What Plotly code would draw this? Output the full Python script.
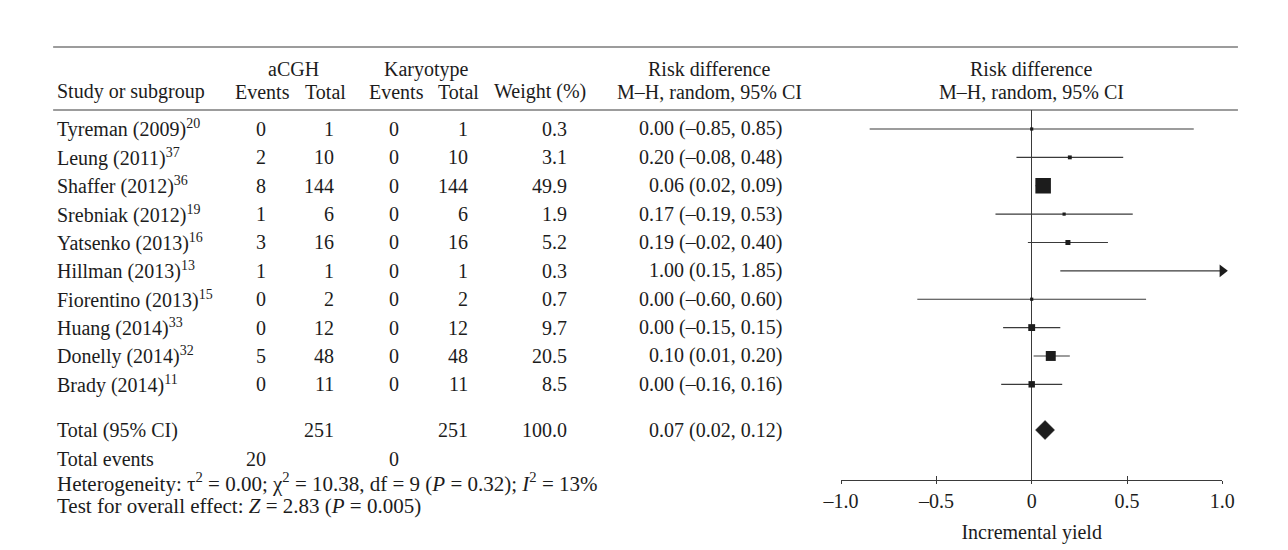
import math
import plotly.graph_objects as go

# ---- study data -------------------------------------------------------
studies = ["Tyreman (2009)", "Leung (2011)", "Shaffer (2012)", "Srebniak (2012)",
           "Yatsenko (2013)", "Hillman (2013)", "Fiorentino (2013)", "Huang (2014)",
           "Donelly (2014)", "Brady (2014)"]
refs = ["20", "37", "36", "19", "16", "13", "15", "33", "32", "11"]
acgh_events = [0, 2, 8, 1, 3, 1, 0, 0, 5, 0]
acgh_total = [1, 10, 144, 6, 16, 1, 2, 12, 48, 11]
kary_events = [0, 0, 0, 0, 0, 0, 0, 0, 0, 0]
kary_total = [1, 10, 144, 6, 16, 1, 2, 12, 48, 11]
weights = [0.3, 3.1, 49.9, 1.9, 5.2, 0.3, 0.7, 9.7, 20.5, 8.5]
rd = [0.00, 0.20, 0.06, 0.17, 0.19, 1.00, 0.00, 0.00, 0.10, 0.00]
rd_lo = [-0.85, -0.08, 0.02, -0.19, -0.02, 0.15, -0.60, -0.15, 0.01, -0.16]
rd_hi = [0.85, 0.48, 0.09, 0.53, 0.40, 1.85, 0.60, 0.15, 0.20, 0.16]

# pooled estimate
total_acgh = 251
total_kary = 251
total_weight = 100.0
pooled_rd = 0.07
pooled_lo = 0.02
pooled_hi = 0.12
events_acgh = 20
events_kary = 0
heterogeneity = ("Heterogeneity: τ<sup>2</sup> = 0.00; χ<sup>2</sup> = 10.38, df = 9 "
                 "(<i>P</i> = 0.32); <i>I</i><sup>2</sup> = 13%")
overall_test = "Test for overall effect: <i>Z</i> = 2.83 (<i>P</i> = 0.005)"

x_ticks = [-1.0, -0.5, 0.0, 0.5, 1.0]
x_tick_labels = ["–1.0", "–0.5", "0", "0.5", "1.0"]

# ---- layout helpers ---------------------------------------------------
W, H = 1288, 550
FONT = "Liberation Serif"
FS = 20
FS_NOTE = 21
INK = "#1c1c1c"
LINE = "#3a3a3a"

ROW0_PX, ROW_STEP = 129.0, 28.37     # pixel centre of the first study row, row pitch
PLOT_TOP_PX, PLOT_BOT_PX = 110.0, 480.0
X_LEFT_PX, X_RIGHT_PX = 843.0, 1234.0


def px_x(p):
    return p / W


def px_y(p):
    return 1 - p / H


def row_of(p):
    return (p - ROW0_PX) / ROW_STEP


X_MIN, X_MAX = x_ticks[0], x_ticks[-1]
rows = list(range(len(studies)))
pooled_row = row_of(430)

fig = go.Figure()

# confidence interval whiskers (clipped at the axis limit)
seg_x, seg_y = [], []
arrow_x, arrow_y = [], []
for i in rows:
    lo = max(rd_lo[i], X_MIN)
    hi = min(rd_hi[i], X_MAX)
    seg_x += [lo, hi, None]
    seg_y += [i, i, None]
    if rd_hi[i] > X_MAX:
        arrow_x.append(X_MAX)
        arrow_y.append(i)

fig.add_trace(go.Scatter(x=seg_x, y=seg_y, mode="lines",
                         line=dict(color=LINE, width=1.1),
                         hoverinfo="skip", showlegend=False))

# point estimates, square area proportional to study weight
vis = [i for i in rows if rd_hi[i] <= X_MAX]
fig.add_trace(go.Scatter(
    x=[rd[i] for i in vis], y=vis, mode="markers",
    marker=dict(symbol="square", color=INK, opacity=1,
                size=[max(3.2, 2.2 * math.sqrt(weights[i])) for i in vis],
                line=dict(width=0)),
    showlegend=False, cliponaxis=False))

# arrow for intervals running past the axis
fig.add_trace(go.Scatter(x=arrow_x, y=arrow_y, mode="markers",
                         marker=dict(symbol="triangle-right", size=11, color=INK,
                                     opacity=1, line=dict(width=0)),
                         showlegend=False, cliponaxis=False))

# pooled diamond
dh = 9.5 / ROW_STEP
fig.add_trace(go.Scatter(
    x=[pooled_lo, pooled_rd, pooled_hi, pooled_rd, pooled_lo],
    y=[pooled_row, pooled_row - dh, pooled_row, pooled_row + dh, pooled_row],
    mode="lines", fill="toself", fillcolor=INK, line=dict(color=INK, width=0.5),
    showlegend=False, hoverinfo="skip"))

# secondary axis only used to draw the upward half of the crossing ticks
fig.add_trace(go.Scatter(x=[X_MIN, X_MAX], y=[pooled_row, pooled_row], xaxis="x2",
                         mode="markers", marker=dict(opacity=0), showlegend=False,
                         hoverinfo="skip"))

ann = []


def text(x_px, y, s, align="left", paper_px=None, size=FS):
    """Place a table cell; rows use the data axis, header/footer use pixel rows."""
    if paper_px is not None:
        yref, yy = "paper", px_y(paper_px)
    else:
        yref, yy = "y", y
    ann.append(dict(x=px_x(x_px), y=yy, xref="paper", yref=yref, text=s,
                    showarrow=False, xanchor=align, yanchor="middle",
                    font=dict(family=FONT, size=size, color=INK)))


# column anchors (px)
C_NAME = 37
C_AEV, C_ATOT = 255, 325
C_KEV, C_KTOT = 392, 463
C_W, C_RD = 564, 784

# header
H1, H2 = 69.5, 92
text(281, None, "aCGH", "center", H1)
text(418, None, "Karyotype", "center", H1)
text(708, None, "Risk difference", "center", H1)
text(1038, None, "Risk difference", "center", H1)
text(C_NAME, None, "Study or subgroup", "left", H2)
text(250, None, "Events", "center", H2)
text(314, None, "Total", "center", H2)
text(387, None, "Events", "center", H2)
text(451, None, "Total", "center", H2)
text(534, None, "Weight (%)", "center", H2)
text(708, None, "M–H, random, 95% CI", "center", H2)
text(1038, None, "M–H, random, 95% CI", "center", H2)

# study rows
for i in rows:
    text(C_NAME, i, f"{studies[i]}<sup>{refs[i]}</sup>")
    text(C_AEV, i, str(acgh_events[i]), "right")
    text(C_ATOT, i, str(acgh_total[i]), "right")
    text(C_KEV, i, str(kary_events[i]), "right")
    text(C_KTOT, i, str(kary_total[i]), "right")
    text(C_W, i, f"{weights[i]:.1f}", "right")
    text(C_RD, i, f"{rd[i]:.2f} ({rd_lo[i]:.2f}, {rd_hi[i]:.2f})".replace("-", "–"), "right")

# totals and statistics
text(C_NAME, pooled_row, "Total (95% CI)")
text(C_ATOT, pooled_row, str(total_acgh), "right")
text(C_KTOT, pooled_row, str(total_kary), "right")
text(C_W, pooled_row, f"{total_weight:.1f}", "right")
text(C_RD, pooled_row, f"{pooled_rd:.2f} ({pooled_lo:.2f}, {pooled_hi:.2f})", "right")
text(C_NAME, None, "Total events", "left", 459)
text(C_AEV, None, str(events_acgh), "right", 459)
text(C_KEV, None, str(events_kary), "right", 459)
text(C_NAME, None, heterogeneity, "left", 482, FS_NOTE)
text(C_NAME, None, overall_test, "left", 505.5, FS_NOTE)

# horizontal rules
shapes = [
    dict(type="line", xref="paper", yref="paper", x0=px_x(35), x1=px_x(1250),
         y0=px_y(47), y1=px_y(47), line=dict(color=LINE, width=1.2)),
    dict(type="line", xref="paper", yref="paper", x0=px_x(35), x1=px_x(1250),
         y0=px_y(PLOT_TOP_PX), y1=px_y(PLOT_TOP_PX), line=dict(color=LINE, width=1.2)),
]

axis_common = dict(range=[X_MIN, X_MAX], tickvals=x_ticks, showgrid=False,
                   domain=[px_x(X_LEFT_PX), px_x(X_RIGHT_PX)], tickwidth=1,
                   tickcolor=LINE)

fig.update_layout(
    width=W, height=H, margin=dict(l=0, r=0, t=0, b=0),
    paper_bgcolor="white", plot_bgcolor="white",
    font=dict(family=FONT, size=FS, color=INK),
    annotations=ann, shapes=shapes, showlegend=False,
    xaxis=dict(**axis_common, ticktext=x_tick_labels, ticks="outside", ticklen=3,
               showline=True, linecolor=LINE, linewidth=1.1,
               zeroline=True, zerolinecolor=LINE, zerolinewidth=1.1,
               tickfont=dict(family=FONT, size=FS, color=INK),
               title=dict(text="Incremental yield", standoff=13,
                          font=dict(family=FONT, size=FS, color=INK))),
    xaxis2=dict(**axis_common, overlaying="x", anchor="y", side="bottom",
                ticks="inside", ticklen=4, showticklabels=False,
                showline=False, zeroline=False),
    yaxis=dict(range=[row_of(PLOT_BOT_PX), row_of(PLOT_TOP_PX)],
               domain=[px_y(PLOT_BOT_PX), px_y(PLOT_TOP_PX)],
               visible=False, showgrid=False, zeroline=False),
)

fig.write_html("out.html")
